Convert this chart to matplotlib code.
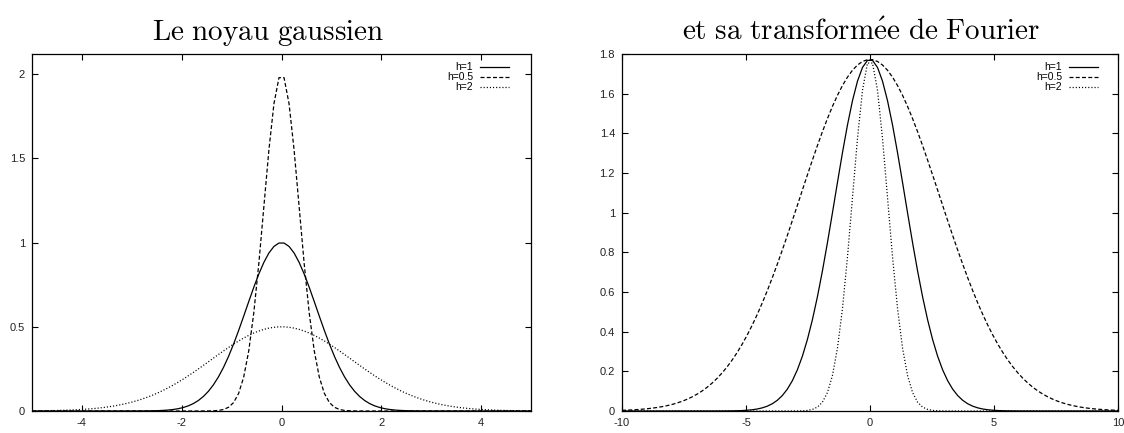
import numpy as np
import matplotlib
matplotlib.use("Agg")
import matplotlib.pyplot as plt

plt.rcParams["mathtext.fontset"] = "cm"
plt.rcParams["font.family"] = ["Liberation Sans", "DejaVu Sans"]

# Bandwidths and legend labels
bandwidths = [1.0, 0.5, 2.0]
labels = ["h=1", "h=0.5", "h=2"]

# Axis ranges and tick labels
kernel_xticks = [-4, -2, 0, 2, 4]
kernel_yticks = [0, 0.5, 1, 1.5, 2]
kernel_yticklabels = ["0", "0.5", "1", "1.5", "2"]
fourier_xticks = [-10, -5, 0, 5, 10]
fourier_yticks = [0, 0.2, 0.4, 0.6, 0.8, 1, 1.2, 1.4, 1.6, 1.8]
fourier_yticklabels = ["0", "0.2", "0.4", "0.6", "0.8", "1", "1.2", "1.4", "1.6", "1.8"]

titles = [r"$\mathrm{Le\ noyau\ gaussien}$",
          r"$\mathrm{et\ sa\ transform\acute{e}e\ de\ Fourier}$"]

# Gaussian kernel K_h(x) = exp(-x^2/h^2)/h and its Fourier transform
x_k = np.linspace(-5, 5, 100)
x_f = np.linspace(-10, 10, 100)

def kernel(x, h):
    return np.exp(-x**2 / h**2) / h

def kernel_ft(w, h):
    return np.sqrt(np.pi) * np.exp(-(h * w)**2 / 4)

styles = [dict(ls="-"), dict(dashes=(3.2, 1.8)), dict(dashes=(0.9, 1.6))]

W, H = 1124, 433
fig = plt.figure(figsize=(W / 100, H / 100), dpi=100)

def px_axes(x0, x1, y0, y1):
    return fig.add_axes([x0 / W, 1 - y1 / H, (x1 - x0) / W, (y1 - y0) / H])

ax1 = px_axes(32, 531, 54, 411)
ax2 = px_axes(622, 1118, 54, 411)

for h, lab, st in zip(bandwidths, labels, styles):
    ax1.plot(x_k, kernel(x_k, h), color="black", lw=0.9, label=lab, **st)
    ax2.plot(x_f, kernel_ft(x_f, h), color="black", lw=0.9, label=lab, **st)

ax1.set_xlim(-5, 5)
ax1.set_ylim(0, 2.12)
ax1.set_xticks(kernel_xticks)
ax1.set_xticklabels([str(t) for t in kernel_xticks])
ax1.set_yticks(kernel_yticks)
ax1.set_yticklabels(kernel_yticklabels)

ax2.set_xlim(-10, 10)
ax2.set_ylim(0, 1.8)
ax2.set_xticks(fourier_xticks)
ax2.set_xticklabels([str(t) for t in fourier_xticks])
ax2.set_yticks(fourier_yticks)
ax2.set_yticklabels(fourier_yticklabels)

for ax, inset in ((ax1, 14), (ax2, 12)):
    for sp in ax.spines.values():
        sp.set_linewidth(0.9)
    ax.tick_params(direction="in", length=4, width=0.8, top=True, right=True,
                   labelsize=8, pad=5, colors="black", labelcolor="#222222")
    wpx = ax.get_position().width * W
    leg = ax.legend(loc="upper right", frameon=False, markerfirst=False,
                    fontsize=7.5, handlelength=2.8, handletextpad=0.6,
                    labelspacing=0.0, borderaxespad=0.4,
                    bbox_to_anchor=(1 - inset / wpx, 1))
    for t in leg.get_texts():
        t.set_ha("right")

fig.text(268 / W, 1 - 40 / H, titles[0], fontsize=21, ha="center", va="baseline")
fig.text(1040 / W, 1 - 40 / H, titles[1], fontsize=21, ha="right", va="baseline")

fig.savefig("out.png", dpi=100)
